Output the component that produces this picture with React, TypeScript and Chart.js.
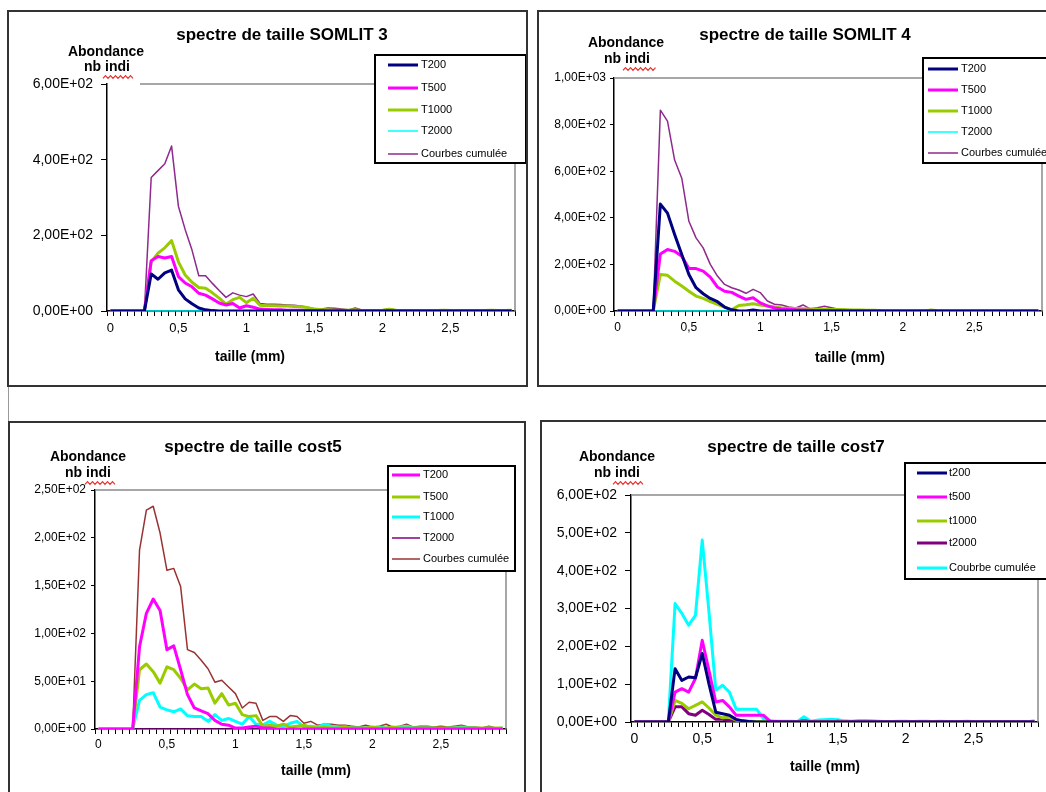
import React, { useEffect, useRef } from "react";
import { Chart, registerables } from "chart.js";

Chart.register(...registerables);

// ---------- categories (taille, mm) ----------
const TAILLE: string[] = [
  "0", "0,05", "0,1", "0,15", "0,2", "0,25", "0,3", "0,35", "0,4", "0,45",
  "0,5", "0,55", "0,6", "0,65", "0,7", "0,75", "0,8", "0,85", "0,9", "0,95",
  "1", "1,05", "1,1", "1,15", "1,2", "1,25", "1,3", "1,35", "1,4", "1,45",
  "1,5", "1,55", "1,6", "1,65", "1,7", "1,75", "1,8", "1,85", "1,9", "1,95",
  "2", "2,05", "2,1", "2,15", "2,2", "2,25", "2,3", "2,35", "2,4", "2,45",
  "2,5", "2,55", "2,6", "2,65", "2,7", "2,75", "2,8", "2,85", "2,9", "2,95",
];

// ---------- SOMLIT 3 ----------
const S3_T200 = [
  0, 0, 0, 0, 0, 0, 98, 84, 101, 108,
  56, 32, 19, 8, 3, 1, 0, 0, 0, 0,
  0, 0, 0, 0, 0, 0, 0, 0, 0, 0,
  0, 0, 0, 0, 0, 0, 0, 0, 0, 0,
  0, 0, 0, 0, 0, 0, 0, 0, 0, 0,
  0, 0, 0, 0, 0, 0, 0, 0, 0, 0,
];
const S3_T500 = [
  0, 0, 0, 0, 0, 0, 133, 144, 140, 144,
  91, 74, 64, 47, 42, 32, 21, 16, 20, 8,
  14, 10, 5, 4, 3, 3, 2, 2, 2, 1,
  1, 1, 0, 0, 1, 0, 0, 0, 0, 0,
  0, 1, 0, 0, 0, 0, 0, 0, 0, 0,
  0, 0, 0, 0, 0, 0, 0, 0, 0, 0,
];
const S3_T1000 = [
  0, 0, 0, 0, 0, 0, 130, 153, 167, 186,
  130, 95, 76, 62, 60, 48, 34, 18, 30, 36,
  22, 34, 15, 14, 14, 13, 13, 12, 11, 9,
  5, 3, 3, 2, 2, 2, 3, 1, 1, 1,
  2, 5, 2, 1, 1, 1, 1, 1, 1, 2,
  1, 1, 1, 1, 1, 1, 2, 1, 1, 2,
];
const S3_T2000 = [
  0, 0, 0, 0, 0, 0, 0, 0, 0, 0,
  0, 0, 0, 0, 0, 0, 0, 0, 0, 0,
  0, 0, 0, 0, 0, 0, 0, 0, 0, 0,
  0, 0, 0, 0, 0, 0, 0, 0, 0, 0,
  0, 0, 0, 0, 0, 0, 0, 0, 0, 0,
  0, 0, 0, 0, 0, 0, 0, 0, 0, 0,
];
const S3_CUM = [
  0, 0, 0, 0, 0, 0, 353, 371, 389, 436,
  277, 215, 161, 93, 93, 73, 54, 36, 48, 42,
  38, 45, 20, 18, 18, 17, 16, 15, 13, 10,
  6, 5, 8, 7, 5, 3, 8, 3, 2, 2,
  3, 6, 3, 2, 2, 2, 1, 2, 1, 3,
  2, 1, 1, 1, 1, 2, 2, 1, 1, 3,
];

// ---------- SOMLIT 4 ----------
const S4_T200 = [
  0, 0, 0, 0, 0, 0, 459, 420, 328, 242,
  157, 100, 74, 54, 40, 17, 5, 0, 0, 4,
  0, 0, 0, 0, 0, 0, 0, 0, 0, 0,
  0, 0, 0, 0, 0, 0, 0, 0, 0, 0,
  0, 0, 0, 0, 0, 0, 0, 0, 0, 0,
  0, 0, 0, 0, 0, 0, 0, 0, 0, 0,
];
const S4_T500 = [
  0, 0, 0, 0, 0, 0, 245, 264, 256, 235,
  182, 182, 171, 145, 103, 85, 80, 64, 50, 57,
  35, 22, 13, 9, 7, 5, 4, 3, 2, 2,
  1, 1, 0, 0, 0, 0, 0, 0, 0, 0,
  0, 0, 0, 0, 0, 0, 0, 0, 0, 0,
  0, 0, 0, 0, 0, 0, 0, 0, 0, 0,
];
const S4_T1000 = [
  0, 0, 0, 0, 0, 0, 157, 153, 128, 107,
  85, 64, 54, 40, 29, 17, 5, 24, 27, 31,
  26, 21, 17, 13, 12, 11, 10, 9, 8, 7,
  6, 6, 5, 4, 4, 3, 3, 1, 0, 0,
  0, 0, 0, 0, 4, 0, 0, 0, 0, 0,
  0, 0, 0, 0, 0, 0, 0, 0, 0, 0,
];
const S4_T2000 = [
  0, 0, 0, 0, 0, 0, 0, 0, 0, 0,
  0, 0, 0, 0, 0, 0, 0, 0, 0, 0,
  0, 0, 0, 0, 0, 0, 0, 0, 0, 0,
  0, 0, 0, 0, 0, 0, 0, 0, 0, 0,
  0, 0, 0, 0, 0, 0, 0, 0, 0, 0,
  0, 0, 0, 0, 0, 0, 0, 0, 0, 0,
];
const S4_CUM = [
  0, 0, 0, 0, 0, 0, 862, 815, 648, 570,
  385, 314, 271, 200, 150, 114, 100, 90, 76, 93,
  79, 43, 29, 26, 17, 13, 26, 9, 14, 20,
  14, 8, 6, 5, 4, 4, 3, 1, 0, 0,
  0, 0, 0, 0, 2, 0, 0, 0, 0, 0,
  0, 0, 0, 0, 0, 0, 0, 0, 0, 0,
];

// ---------- cost5 ----------
const C5_T200 = [
  0, 0, 0, 0, 0, 0, 86, 121, 136, 124,
  83, 87, 62, 36, 22, 19, 16, 9, 5, 4,
  1, 1, 2, 3, 1, 1, 0, 0, 0, 0,
  0, 0, 0, 0, 0, 0, 0, 0, 0, 0,
  0, 0, 0, 0, 0, 0, 0, 0, 0, 0,
  0, 0, 0, 0, 0, 0, 0, 0, 0, 0,
];
const C5_T500 = [
  0, 0, 0, 0, 0, 0, 62, 68, 60, 48,
  65, 62, 53, 41, 47, 42, 43, 27, 37, 25,
  27, 15, 13, 14, 3, 4, 3, 5, 2, 3,
  4, 2, 1, 2, 1, 1, 2, 1, 1, 1,
  2, 1, 1, 2, 1, 1, 1, 1, 1, 1,
  1, 1, 1, 1, 1, 1, 1, 1, 1, 1,
];
const C5_T1000 = [
  0, 0, 0, 0, 0, 0, 30, 36, 38, 23,
  20, 18, 21, 14, 13, 13, 8, 15, 9, 11,
  8, 5, 13, 5, 4, 8, 4, 3, 6, 8,
  2, 3, 2, 5, 3, 2, 2, 1, 1, 1,
  1, 2, 1, 1, 2, 3, 1, 1, 1, 1,
  0, 1, 1, 2, 1, 1, 0, 1, 0, 1,
];
const C5_T2000 = [
  0, 0, 0, 0, 0, 0, 0, 0, 0, 0,
  0, 0, 0, 0, 0, 0, 0, 0, 0, 0,
  0, 0, 0, 0, 0, 0, 0, 0, 0, 0,
  0, 0, 0, 0, 0, 0, 0, 0, 0, 0,
  0, 0, 0, 0, 0, 0, 0, 0, 0, 0,
  0, 0, 0, 0, 0, 0, 0, 0, 0, 0,
];
const C5_CUM = [
  0, 0, 0, 0, 0, 0, 187, 229, 233, 205,
  166, 168, 149, 83, 80, 72, 63, 49, 51, 44,
  37, 22, 28, 27, 9, 13, 13, 8, 14, 13,
  6, 8, 4, 5, 5, 4, 4, 3, 2, 4,
  2, 3, 5, 2, 3, 5, 2, 3, 3, 2,
  3, 2, 3, 4, 2, 2, 1, 3, 1, 1,
];

// ---------- cost7 ----------
const C7_T200 = [
  0, 0, 0, 0, 0, 0, 141, 110, 119, 117,
  181, 100, 26, 22, 18, 7, 3, 1, 0, 0,
  0, 0, 0, 0, 0, 0, 0, 0, 0, 0,
  0, 0, 0, 0, 0, 0, 0, 0, 0, 0,
  0, 0, 0, 0, 0, 0, 0, 0, 0, 0,
  0, 0, 0, 0, 0, 0, 0, 0, 0, 0,
];
const C7_T500 = [
  0, 0, 0, 0, 0, 0, 79, 88, 79, 115,
  216, 135, 53, 57, 40, 18, 18, 18, 18, 18,
  2, 1, 0, 0, 0, 0, 0, 0, 0, 0,
  0, 0, 0, 0, 0, 0, 0, 0, 0, 0,
  0, 0, 0, 0, 0, 0, 0, 0, 0, 0,
  0, 0, 0, 0, 0, 0, 0, 0, 0, 0,
];
const C7_T1000 = [
  0, 0, 0, 0, 0, 0, 57, 49, 35, 44,
  53, 37, 18, 11, 13, 5, 3, 2, 1, 1,
  1, 1, 0, 0, 0, 3, 0, 1, 1, 2,
  1, 1, 0, 0, 0, 0, 0, 0, 0, 0,
  0, 0, 0, 0, 1, 0, 0, 0, 0, 0,
  0, 0, 0, 0, 0, 0, 0, 0, 0, 0,
];
const C7_T2000 = [
  0, 0, 0, 0, 0, 0, 40, 40, 22, 18,
  31, 20, 7, 7, 4, 2, 1, 0, 0, 0,
  0, 0, 0, 0, 0, 4, 0, 0, 1, 0,
  2, 0, 0, 0, 0, 0, 0, 0, 0, 0,
  0, 0, 0, 0, 0, 0, 0, 0, 0, 0,
  0, 0, 0, 0, 0, 0, 0, 0, 0, 0,
];
const C7_CUM = [
  0, 0, 0, 0, 0, 0, 313, 287, 256, 282,
  481, 290, 84, 97, 79, 34, 34, 34, 34, 9,
  3, 2, 2, 2, 1, 14, 2, 5, 6, 7,
  6, 3, 2, 4, 4, 3, 2, 1, 1, 2,
  2, 1, 2, 2, 1, 2, 1, 1, 1, 2,
  1, 1, 1, 1, 1, 1, 1, 1, 1, 3,
];

// ---------- colours ----------
const NAVY = "#000080";
const MAGENTA = "#FF00FF";
const GREEN = "#99CC00";
const CYAN = "#00FFFF";
const PURPLE = "#800080";
const PURPLE_LIGHT = "#8E2A8E";
const BROWN = "#993333";

const FONT = "'Liberation Sans', Arial, sans-serif";

type Series = { label: string; data: number[]; color: string; width: number };
type PanelDef = {
  box: { x: number; y: number; w: number; h: number };
  plot: { l: number; t: number; r: number; b: number };
  title: string;
  titleXY: [number, number];
  abXY: [number, number];
  nbXY: [number, number];
  wavy: [number, number, number];
  xTitleXY: [number, number];
  topLineStart: number;
  yMax: number;
  yStep: number;
  yFont: number;
  xFont: number;
  yTickLen: number;
  yPad: number;
  xTickLen: number;
  xPad: number;
  legend: { l: number; t: number; r: number; b: number; x1: number; x2: number; tx: number; ys: number[] };
  series: Series[];
};

const PANELS: PanelDef[] = [
  {
    box: { x: 7, y: 10, w: 521, h: 377 },
    plot: { l: 107, t: 84, r: 515, b: 311 },
    title: "spectre de taille SOMLIT 3",
    titleXY: [282, 35],
    abXY: [106, 52],
    nbXY: [107, 67],
    wavy: [103, 135, 77],
    xTitleXY: [250, 357],
    topLineStart: 140,
    yMax: 600, yStep: 200, yFont: 14, xFont: 13,
    yTickLen: 6, yPad: 8, xTickLen: 5, xPad: 5,
    legend: { l: 375, t: 55, r: 526, b: 163, x1: 388, x2: 418, tx: 421, ys: [65, 88, 110, 131, 154] },
    series: [
      { label: "T200", data: S3_T200, color: NAVY, width: 3 },
      { label: "T500", data: S3_T500, color: MAGENTA, width: 3 },
      { label: "T1000", data: S3_T1000, color: GREEN, width: 3 },
      { label: "T2000", data: S3_T2000, color: CYAN, width: 1.5 },
      { label: "Courbes cumulée", data: S3_CUM, color: PURPLE_LIGHT, width: 1.5 },
    ],
  },
  {
    box: { x: 537, y: 10, w: 540, h: 377 },
    plot: { l: 614, t: 78, r: 1042, b: 311 },
    title: "spectre de taille SOMLIT 4",
    titleXY: [805, 35],
    abXY: [626, 43],
    nbXY: [627, 59],
    wavy: [623, 656, 69],
    xTitleXY: [850, 358],
    topLineStart: 614,
    yMax: 1000, yStep: 200, yFont: 12, xFont: 12,
    yTickLen: 4, yPad: 4, xTickLen: 5, xPad: 4,
    legend: { l: 923, t: 58, r: 1080, b: 163, x1: 928, x2: 958, tx: 961, ys: [69, 90, 111, 132, 153] },
    series: [
      { label: "T200", data: S4_T200, color: NAVY, width: 3 },
      { label: "T500", data: S4_T500, color: MAGENTA, width: 3 },
      { label: "T1000", data: S4_T1000, color: GREEN, width: 3 },
      { label: "T2000", data: S4_T2000, color: CYAN, width: 1.5 },
      { label: "Courbes cumulée", data: S4_CUM, color: PURPLE_LIGHT, width: 1.5 },
    ],
  },
  {
    box: { x: 8, y: 421, w: 518, h: 400 },
    plot: { l: 95, t: 490, r: 506, b: 729 },
    title: "spectre de taille cost5",
    titleXY: [253, 447],
    abXY: [88, 457],
    nbXY: [88, 473],
    wavy: [85, 115, 483],
    xTitleXY: [316, 771],
    topLineStart: 95,
    yMax: 250, yStep: 50, yFont: 12, xFont: 12,
    yTickLen: 4, yPad: 5, xTickLen: 5, xPad: 3,
    legend: { l: 388, t: 466, r: 515, b: 571, x1: 392, x2: 420, tx: 423, ys: [475, 497, 517, 538, 559] },
    series: [
      { label: "T200", data: C5_T200, color: MAGENTA, width: 3 },
      { label: "T500", data: C5_T500, color: GREEN, width: 3 },
      { label: "T1000", data: C5_T1000, color: CYAN, width: 3 },
      { label: "T2000", data: C5_T2000, color: PURPLE, width: 1.5 },
      { label: "Courbes cumulée", data: C5_CUM, color: BROWN, width: 1.5 },
    ],
  },
  {
    box: { x: 540, y: 420, w: 540, h: 400 },
    plot: { l: 631, t: 495, r: 1038, b: 722 },
    title: "spectre de taille cost7",
    titleXY: [796, 447],
    abXY: [617, 457],
    nbXY: [617, 473],
    wavy: [613, 645, 483],
    xTitleXY: [825, 767],
    topLineStart: 631,
    yMax: 600, yStep: 100, yFont: 14, xFont: 14,
    yTickLen: 6, yPad: 8, xTickLen: 5, xPad: 4,
    legend: { l: 905, t: 463, r: 1080, b: 579, x1: 917, x2: 947, tx: 949, ys: [473, 497, 521, 543, 568] },
    series: [
      { label: "t200", data: C7_T200, color: NAVY, width: 3 },
      { label: "t500", data: C7_T500, color: MAGENTA, width: 3 },
      { label: "t1000", data: C7_T1000, color: GREEN, width: 3 },
      { label: "t2000", data: C7_T2000, color: PURPLE, width: 3 },
      { label: "Coubrbe cumulée", data: C7_CUM, color: CYAN, width: 3 },
    ],
  },
];

function sci(v: number): string {
  const r = Math.round(v * 1000) / 1000;
  if (r === 0) return "0,00E+00";
  const e = Math.floor(Math.log10(Math.abs(r)) + 1e-9);
  const m = r / Math.pow(10, e);
  return m.toFixed(2).replace(".", ",") + "E" + (e >= 0 ? "+" : "-") + String(Math.abs(e)).padStart(2, "0");
}

function makeDecor(p: PanelDef) {
  const ox = p.box.x;
  const oy = p.box.y;
  return {
    id: "decor",
    beforeDatasetsDraw(chart: any) {
      const ctx = chart.ctx as CanvasRenderingContext2D;
      const a = chart.chartArea;
      ctx.save();
      ctx.strokeStyle = "#8a8a8a";
      ctx.lineWidth = 1.5;
      ctx.beginPath();
      ctx.moveTo(p.topLineStart - ox, a.top);
      ctx.lineTo(a.right, a.top);
      ctx.lineTo(a.right, a.bottom);
      ctx.stroke();
      ctx.restore();
    },
    afterDraw(chart: any) {
      const ctx = chart.ctx as CanvasRenderingContext2D;
      ctx.save();
      ctx.fillStyle = "#000";
      ctx.textBaseline = "middle";
      ctx.textAlign = "center";
      // chart title
      ctx.font = `bold 17px ${FONT}`;
      ctx.fillText(p.title, p.titleXY[0] - ox, p.titleXY[1] - oy);
      // y axis title
      ctx.font = `bold 14px ${FONT}`;
      ctx.fillText("Abondance", p.abXY[0] - ox, p.abXY[1] - oy);
      ctx.fillText("nb indi", p.nbXY[0] - ox, p.nbXY[1] - oy);
      // spell-check wavy underline
      ctx.strokeStyle = "#E8302A";
      ctx.lineWidth = 1.2;
      ctx.beginPath();
      const [wx1, wx2, wy] = p.wavy;
      let k = 0;
      for (let x = wx1; x <= wx2; x += 2.5, k++) {
        const yy = wy - oy + (k % 2 === 0 ? 1.3 : -1.3);
        if (k === 0) ctx.moveTo(x - ox, yy);
        else ctx.lineTo(x - ox, yy);
      }
      ctx.stroke();
      // x axis title
      ctx.fillStyle = "#000";
      ctx.font = `bold 14px ${FONT}`;
      ctx.fillText("taille (mm)", p.xTitleXY[0] - ox, p.xTitleXY[1] - oy);
      // legend box
      const L = p.legend;
      ctx.fillStyle = "#fff";
      ctx.fillRect(L.l - ox, L.t - oy, L.r - L.l, L.b - L.t);
      ctx.strokeStyle = "#000";
      ctx.lineWidth = 2;
      ctx.strokeRect(L.l - ox, L.t - oy, L.r - L.l, L.b - L.t);
      ctx.textAlign = "left";
      ctx.font = `11px ${FONT}`;
      p.series.forEach((s, i) => {
        const y = L.ys[i] - oy;
        ctx.strokeStyle = s.color;
        ctx.lineWidth = s.width;
        ctx.beginPath();
        ctx.moveTo(L.x1 - ox, y);
        ctx.lineTo(L.x2 - ox, y);
        ctx.stroke();
        ctx.fillStyle = "#000";
        ctx.fillText(s.label, L.tx - ox, y);
      });
      ctx.restore();
    },
  };
}

function Panel({ def }: { def: PanelDef }) {
  const ref = useRef<HTMLCanvasElement>(null);
  useEffect(() => {
    const p = def;
    const chart = new Chart(ref.current as HTMLCanvasElement, {
      type: "line",
      data: {
        labels: TAILLE,
        datasets: p.series.map((s) => ({
          label: s.label,
          data: s.data,
          borderColor: s.color,
          backgroundColor: s.color,
          borderWidth: s.width,
          pointRadius: 0,
          pointHoverRadius: 0,
          fill: false,
          tension: 0,
          borderJoinStyle: "round" as const,
        })),
      },
      options: {
        responsive: false,
        animation: false,
        events: [],
        layout: {
          padding: {
            left: 0,
            top: p.plot.t - p.box.y,
            right: p.box.x + p.box.w - p.plot.r,
            bottom: 0,
          },
        },
        plugins: {
          legend: { display: false },
          title: { display: false },
          tooltip: { enabled: false },
        },
        scales: {
          x: {
            type: "category",
            offset: true,
            afterFit: (scale: any) => {
              scale.height = p.box.y + p.box.h - p.plot.b;
            },
            grid: {
              display: true,
              drawOnChartArea: false,
              drawTicks: true,
              tickLength: p.xTickLen,
              color: "#000",
              lineWidth: 1,
              offset: true,
            },
            border: { display: true, color: "#000", width: 1.5 },
            ticks: {
              autoSkip: false,
              maxRotation: 0,
              minRotation: 0,
              padding: p.xPad,
              color: "#000",
              font: { family: FONT, size: p.xFont },
              callback: (_v: any, index: number) => (index % 10 === 0 ? TAILLE[index] : ""),
            },
          },
          y: {
            type: "linear",
            min: 0,
            max: p.yMax,
            afterFit: (scale: any) => {
              scale.width = p.plot.l - p.box.x;
            },
            grid: {
              display: true,
              drawOnChartArea: false,
              drawTicks: true,
              tickLength: p.yTickLen,
              color: "#000",
              lineWidth: 1,
            },
            border: { display: true, color: "#000", width: 1.5 },
            ticks: {
              stepSize: p.yStep,
              padding: p.yPad,
              color: "#000",
              font: { family: FONT, size: p.yFont },
              callback: (v: any) => sci(Number(v)),
            },
          },
        },
      },
      plugins: [makeDecor(p)],
    } as any);
    return () => chart.destroy();
  }, [def]);
  const { x, y, w, h } = def.box;
  return (
    <>
      <canvas
        ref={ref}
        width={w}
        height={h}
        style={{ position: "absolute", left: x, top: y, width: w, height: h }}
      />
      <div
        style={{
          position: "absolute",
          left: x,
          top: y,
          width: w,
          height: h,
          border: "2px solid #333",
          boxSizing: "border-box",
          pointerEvents: "none",
        }}
      />
    </>
  );
}

export default function App() {
  return (
    <div
      style={{
        position: "fixed",
        left: 0,
        top: 0,
        width: 1046,
        height: 792,
        overflow: "hidden",
        background: "#fff",
      }}
    >
      {PANELS.map((p, i) => (
        <Panel key={i} def={p} />
      ))}
      <div style={{ position: "absolute", left: 8, top: 387, width: 1, height: 34, background: "#9a9a9a" }} />
    </div>
  );
}
